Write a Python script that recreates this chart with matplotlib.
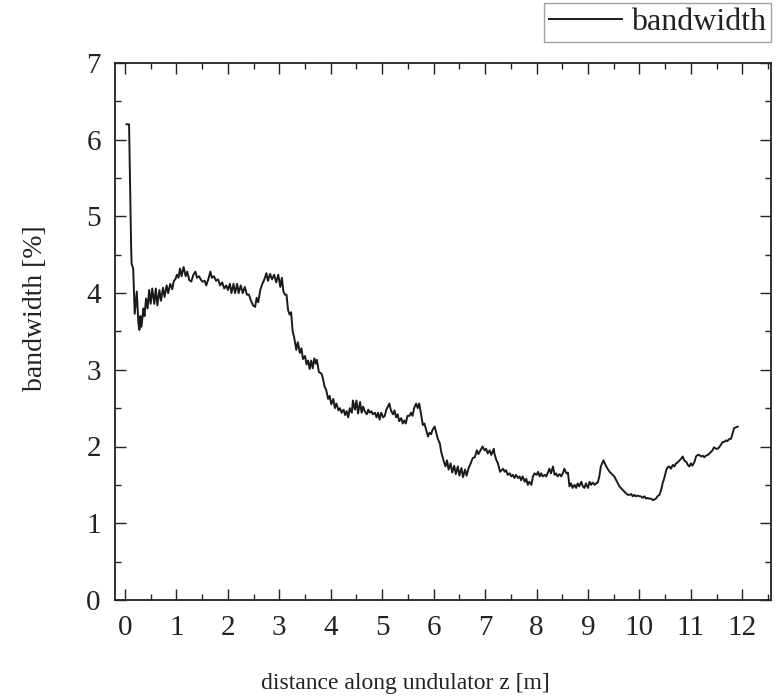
import matplotlib
matplotlib.use("Agg")
import matplotlib.pyplot as plt
from matplotlib.ticker import MultipleLocator

plt.rcParams['font.family'] = ['Liberation Serif', 'DejaVu Serif']

# bandwidth along the undulator
z_m = [0.03, 0.08, 0.10, 0.12, 0.13, 0.16, 0.19, 0.23, 0.26, 0.28, 0.30, 0.32, 0.36, 0.38,
       0.41, 0.44, 0.47, 0.50, 0.53, 0.57, 0.60, 0.63, 0.67, 0.70, 0.74, 0.77, 0.81, 0.84,
       0.88, 0.92, 0.95, 0.98, 1.01, 1.04, 1.07, 1.10, 1.14, 1.18, 1.21, 1.25, 1.29, 1.33,
       1.37, 1.40, 1.44, 1.48, 1.51, 1.55, 1.58, 1.62, 1.66, 1.69, 1.73, 1.77, 1.81, 1.85,
       1.89, 1.93, 1.97, 2.00, 2.04, 2.07, 2.11, 2.14, 2.18, 2.21, 2.25, 2.29, 2.33, 2.37,
       2.41, 2.45, 2.49, 2.53, 2.56, 2.59, 2.63, 2.67, 2.71, 2.75, 2.78, 2.82, 2.86, 2.90,
       2.94, 2.98, 3.02, 3.05, 3.08, 3.11, 3.14, 3.17, 3.20, 3.23, 3.26, 3.29, 3.33, 3.36,
       3.40, 3.43, 3.46, 3.50, 3.53, 3.56, 3.59, 3.62, 3.65, 3.68, 3.71, 3.73, 3.77, 3.82,
       3.85, 3.88, 3.91, 3.95, 3.98, 4.01, 4.05, 4.08, 4.11, 4.15, 4.18, 4.21, 4.25, 4.28,
       4.31, 4.34, 4.37, 4.41, 4.43, 4.47, 4.50, 4.53, 4.57, 4.60, 4.63, 4.66, 4.70, 4.73,
       4.76, 4.79, 4.82, 4.86, 4.89, 4.92, 4.95, 4.98, 5.02, 5.05, 5.08, 5.11, 5.14, 5.17,
       5.21, 5.24, 5.27, 5.30, 5.33, 5.37, 5.40, 5.43, 5.46, 5.49, 5.53, 5.56, 5.59, 5.62,
       5.66, 5.69, 5.72, 5.76, 5.79, 5.82, 5.86, 5.89, 5.92, 5.95, 5.98, 6.02, 6.05, 6.08,
       6.12, 6.15, 6.20, 6.23, 6.26, 6.29, 6.33, 6.36, 6.40, 6.43, 6.47, 6.50, 6.54, 6.57,
       6.61, 6.64, 6.68, 6.72, 6.76, 6.80, 6.84, 6.87, 6.95, 6.99, 7.02, 7.05, 7.09, 7.12,
       7.17, 7.18, 7.22, 7.25, 7.29, 7.35, 7.38, 7.41, 7.44, 7.48, 7.51, 7.54, 7.57, 7.60,
       7.64, 7.67, 7.70, 7.73, 7.77, 7.80, 7.83, 7.86, 7.90, 7.93, 7.96, 8.00, 8.03, 8.06,
       8.09, 8.12, 8.16, 8.19, 8.22, 8.25, 8.28, 8.32, 8.35, 8.38, 8.41, 8.45, 8.48, 8.51,
       8.54, 8.58, 8.61, 8.64, 8.67, 8.70, 8.74, 8.77, 8.80, 8.83, 8.87, 8.90, 8.93, 8.96,
       9.00, 9.03, 9.06, 9.09, 9.13, 9.16, 9.19, 9.22, 9.25, 9.30, 9.34, 9.38, 9.42, 9.45,
       9.48, 9.51, 9.55, 9.58, 9.61, 9.64, 9.68, 9.71, 9.74, 9.77, 9.81, 9.84, 9.87, 9.90,
       9.93, 9.97, 10.00, 10.03, 10.06, 10.10, 10.13, 10.16, 10.19, 10.23, 10.26, 10.29,
       10.32, 10.35, 10.39, 10.42, 10.45, 10.48, 10.52, 10.55, 10.58, 10.61, 10.65, 10.68,
       10.71, 10.74, 10.78, 10.81, 10.84, 10.87, 10.91, 10.94, 10.97, 11.00, 11.03, 11.07,
       11.10, 11.13, 11.16, 11.20, 11.23, 11.26, 11.29, 11.33, 11.36, 11.39, 11.42, 11.45,
       11.49, 11.52, 11.55, 11.58, 11.62, 11.65, 11.68, 11.71, 11.75, 11.78, 11.81, 11.84,
       11.88, 11.91]
bw_pct = [6.20, 6.20, 5.40, 4.60, 4.38, 4.32, 3.73, 4.02, 3.62, 3.52, 3.70, 3.56, 3.80, 3.70,
          3.93, 3.80, 4.04, 3.86, 4.06, 3.86, 4.06, 3.84, 4.04, 3.90, 4.07, 3.95, 4.10, 4.00,
          4.12, 4.05, 4.16, 4.18, 4.24, 4.20, 4.32, 4.22, 4.34, 4.22, 4.28, 4.17, 4.15, 4.24,
          4.28, 4.20, 4.22, 4.17, 4.15, 4.16, 4.10, 4.18, 4.28, 4.20, 4.22, 4.16, 4.18, 4.10,
          4.14, 4.06, 4.10, 4.04, 4.12, 4.00, 4.12, 4.00, 4.12, 4.00, 4.10, 4.00, 4.08, 3.98,
          3.98, 3.90, 3.84, 3.82, 3.94, 3.88, 4.04, 4.12, 4.18, 4.26, 4.16, 4.25, 4.18, 4.24,
          4.14, 4.24, 4.08, 4.20, 4.02, 3.98, 3.98, 3.78, 3.72, 3.75, 3.50, 3.42, 3.26, 3.36,
          3.22, 3.28, 3.14, 3.18, 3.07, 3.12, 3.01, 3.12, 3.02, 3.15, 3.08, 3.13, 2.97, 2.95,
          2.88, 2.78, 2.74, 2.62, 2.66, 2.55, 2.62, 2.50, 2.56, 2.47, 2.50, 2.44, 2.48, 2.41,
          2.46, 2.38, 2.50, 2.44, 2.60, 2.48, 2.60, 2.43, 2.58, 2.44, 2.52, 2.46, 2.42, 2.48,
          2.44, 2.46, 2.42, 2.44, 2.38, 2.44, 2.35, 2.44, 2.38, 2.40, 2.48, 2.52, 2.56, 2.47,
          2.42, 2.47, 2.38, 2.42, 2.33, 2.37, 2.30, 2.34, 2.30, 2.40, 2.40, 2.44, 2.40, 2.50,
          2.56, 2.50, 2.56, 2.40, 2.28, 2.30, 2.20, 2.13, 2.18, 2.16, 2.22, 2.26, 2.18, 2.10,
          2.04, 1.92, 1.80, 1.74, 1.82, 1.70, 1.78, 1.66, 1.75, 1.64, 1.74, 1.62, 1.72, 1.60,
          1.70, 1.62, 1.72, 1.78, 1.85, 1.86, 1.95, 1.90, 2.00, 1.95, 1.97, 1.91, 1.95, 1.89,
          1.97, 1.91, 1.82, 1.78, 1.67, 1.71, 1.67, 1.69, 1.63, 1.65, 1.61, 1.63, 1.59, 1.63,
          1.59, 1.61, 1.56, 1.61, 1.54, 1.58, 1.50, 1.54, 1.50, 1.61, 1.65, 1.63, 1.67, 1.61,
          1.65, 1.61, 1.63, 1.61, 1.66, 1.71, 1.65, 1.74, 1.63, 1.65, 1.61, 1.64, 1.61, 1.65,
          1.71, 1.65, 1.66, 1.48, 1.52, 1.46, 1.50, 1.46, 1.52, 1.48, 1.54, 1.48, 1.46, 1.52,
          1.46, 1.54, 1.50, 1.53, 1.50, 1.52, 1.53, 1.61, 1.74, 1.82, 1.76, 1.71, 1.67, 1.65,
          1.63, 1.61, 1.56, 1.52, 1.48, 1.46, 1.43, 1.41, 1.39, 1.37, 1.37, 1.38, 1.35, 1.37,
          1.35, 1.36, 1.35, 1.35, 1.33, 1.35, 1.32, 1.33, 1.32, 1.32, 1.30, 1.31,
          1.32, 1.35, 1.37, 1.43, 1.52, 1.58, 1.69, 1.73, 1.74, 1.71, 1.76, 1.74,
          1.78, 1.79, 1.82, 1.84, 1.87, 1.82, 1.80, 1.76, 1.74, 1.78, 1.75, 1.80,
          1.87, 1.89, 1.89, 1.87, 1.88, 1.86, 1.88, 1.89, 1.91, 1.93, 1.95, 1.99,
          1.97, 1.97, 1.99, 2.02, 2.06, 2.06, 2.08, 2.07, 2.10, 2.10, 2.17, 2.24,
          2.25, 2.26]

fig = plt.figure(figsize=(7.8, 7.0), dpi=100)
ax = fig.add_axes([0.147, 0.143, 0.841, 0.767])

ax.plot(z_m, bw_pct, color='#1a1a1a', lw=1.4, label='bandwidth')

ax.set_xlim(-0.2, 12.55)
ax.set_ylim(0, 7)
ax.xaxis.set_major_locator(MultipleLocator(1))
ax.xaxis.set_minor_locator(MultipleLocator(0.5))
ax.yaxis.set_major_locator(MultipleLocator(1))
ax.yaxis.set_minor_locator(MultipleLocator(0.5))
ax.tick_params(which='both', direction='in', top=True, right=True, width=1.0,
               labelsize=21, color='#222222', labelcolor='#222222')
ax.tick_params(axis='x', pad=11)
ax.tick_params(axis='y', pad=10)
ax.tick_params(which='major', length=8)
ax.tick_params(which='minor', length=4)
for s in ax.spines.values():
    s.set_linewidth(1.3)
    s.set_color('#222222')

fig.text(405 / 780, 1 - 683 / 700, 'distance along undulator z [m]', fontsize=17,
         ha='center', va='center', color='#222222')
fig.text(36 / 780, 1 - 308 / 700, 'bandwidth [%]', fontsize=20, rotation=90,
         ha='center', va='center', color='#222222')

leg = fig.legend(loc='upper right', bbox_to_anchor=(771 / 780, 1 - 3 / 700),
                 fontsize=23, frameon=True, fancybox=False, handlelength=2.3,
                 handletextpad=0.28, borderpad=0.15, borderaxespad=0)
leg.get_frame().set_edgecolor('#888888')
leg.get_frame().set_linewidth(1.0)
for t in leg.get_texts():
    t.set_color('#222222')

fig.savefig('out.png', dpi=100)
